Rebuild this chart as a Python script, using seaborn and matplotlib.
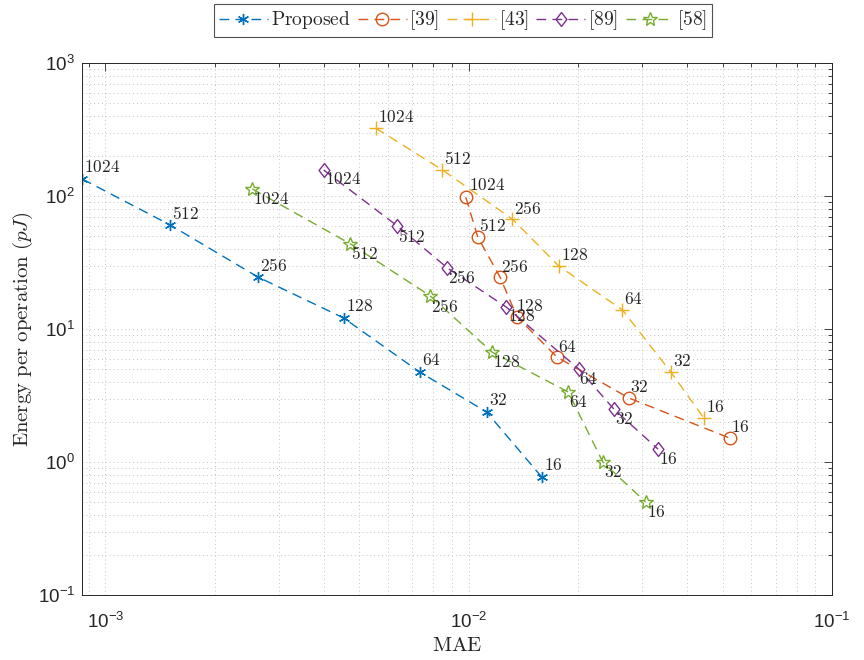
import numpy as np
import pandas as pd
import matplotlib
matplotlib.use("Agg")
import matplotlib.pyplot as plt
from matplotlib.path import Path
import seaborn as sns

# ---- data ----
bits = [1024, 512, 256, 128, 64, 32, 16]

prop_mae = [8.65e-4, 1.51e-3, 2.63e-3, 4.53e-3, 7.33e-3, 1.12e-2, 1.59e-2]
prop_en = [134, 60.5, 24.6, 12.1, 4.75, 2.38, 0.77]

r39_mae = [9.82e-3, 1.06e-2, 1.22e-2, 1.36e-2, 1.75e-2, 2.76e-2, 5.24e-2]
r39_en = [98, 49, 24.6, 12.3, 6.15, 3.03, 1.51]

r43_mae = [5.55e-3, 8.47e-3, 1.32e-2, 1.77e-2, 2.65e-2, 3.60e-2, 4.44e-2]
r43_en = [324, 157, 67, 29.8, 13.9, 4.75, 2.14]

r89_mae = [3.99e-3, 6.37e-3, 8.74e-3, 1.27e-2, 2.01e-2, 2.51e-2, 3.32e-2]
r89_en = [157, 59.4, 28.8, 14.6, 5.0, 2.50, 1.25]

r58_mae = [2.54e-3, 4.73e-3, 7.85e-3, 1.16e-2, 1.88e-2, 2.34e-2, 3.07e-2]
r58_en = [113, 43.6, 17.7, 6.7, 3.36, 1.0, 0.50]

series_names = ["Proposed", "[39]", "[43]", "[89]", "[58]"]

# ---- style ----
sns.set_theme(style="white")
plt.rcParams["font.family"] = ["Liberation Sans", "DejaVu Sans"]
plt.rcParams["mathtext.fontset"] = "custom"
plt.rcParams["mathtext.rm"] = "Liberation Sans"
plt.rcParams["mathtext.it"] = "Liberation Sans:italic"
plt.rcParams["mathtext.bf"] = "Liberation Sans:bold"

dark = "#262626"
colors = ["#0072BD", "#D95319", "#EDB120", "#7E2F8E", "#77AC30"]
asterisk = (6, 2, 0)
diamond = Path([(0, 1), (0.78, 0), (0, -1), (-0.78, 0), (0, 1)],
               [Path.MOVETO, Path.LINETO, Path.LINETO, Path.LINETO, Path.CLOSEPOLY])
markers = [asterisk, "o", "+", diamond, "*"]
msizes = [8, 9, 10, 10, 10]

fig = plt.figure(figsize=(8.64, 6.6), dpi=100)
ax = fig.add_axes([82 / 864, 1 - 595 / 660, (832 - 82) / 864, (595 - 63) / 660])

all_mae = [prop_mae, r39_mae, r43_mae, r89_mae, r58_mae]
all_en = [prop_en, r39_en, r43_en, r89_en, r58_en]

for name, xs, ys, c, m, ms in zip(series_names, all_mae, all_en, colors, markers, msizes):
    df = pd.DataFrame({"MAE": xs, "Energy": ys})
    sns.lineplot(data=df, x="MAE", y="Energy", ax=ax, sort=False, estimator=None,
                 color=c, marker=m, markersize=ms, markerfacecolor="none",
                 markeredgecolor=c, markeredgewidth=1.0, linewidth=1.0,
                 linestyle=(0, (7, 4.5)), label=r"$\mathrm{" + name + "}$")

ax.set_xscale("log")
ax.set_yscale("log")
ax.set_xlim(8.63e-4, 1e-1)
ax.set_ylim(1e-1, 1e3)

# data labels (offsets in pixels)
up = (2, 12)
down = (1, -10)
offsets = [
    [up] * 7,
    [(3, 12), (1, 12), (1, 11), (-9, 1), (1, 10), (1, 11), (1, 11)],
    [(2, 11)] * 7,
    [(1, -9), (1, -10), (1, -10), (10, 1), (0, -10), (1, -10), (1, -10)],
    [down] * 7,
]
for xs, ys, offs in zip(all_mae, all_en, offsets):
    for xv, yv, b, o in zip(xs, ys, bits, offs):
        ax.annotate(r"$\mathrm{" + str(b) + "}$", (xv, yv), xytext=o,
                    textcoords="offset pixels", ha="left", va="center",
                    fontsize=12.5, color=dark, math_fontfamily="cm")

ax.grid(True, which="both", linestyle=(0, (1, 3)), color="#c4c4c4", linewidth=0.7)
ax.tick_params(which="both", direction="in", top=True, right=True, colors=dark,
               labelsize=13.5, width=0.6)
ax.tick_params(which="major", length=6)
ax.tick_params(which="minor", length=3)
ax.tick_params(axis="x", which="major", pad=12)
ax.tick_params(axis="y", which="major", pad=5)
for s in ax.spines.values():
    s.set_color(dark)
    s.set_linewidth(0.7)
ax.set_xticks([1e-3, 1e-2, 1e-1])
ax.set_yticks([1e-1, 1e0, 1e1, 1e2, 1e3])

ax.set_xlabel(r"$\mathrm{MAE}$", fontsize=15, color=dark, math_fontfamily="cm", labelpad=3)
ax.set_ylabel(r"$\mathrm{Energy\ per\ operation}\ (pJ)$", fontsize=15, color=dark,
              math_fontfamily="cm", labelpad=2)

if ax.get_legend():
    ax.get_legend().remove()
handles, labels = ax.get_legend_handles_labels()
leg = fig.legend(handles, labels, loc="center", bbox_to_anchor=(0.536, 0.969),
                 ncol=5, fontsize=14, frameon=True, fancybox=False,
                 edgecolor=dark, handlelength=2.5, handletextpad=0.15,
                 columnspacing=0.4, borderpad=0.25, borderaxespad=0)
leg.get_frame().set_linewidth(0.8)
for t in leg.get_texts():
    t.set_math_fontfamily("cm")
    t.set_color(dark)

fig.savefig("out.png", dpi=100)
